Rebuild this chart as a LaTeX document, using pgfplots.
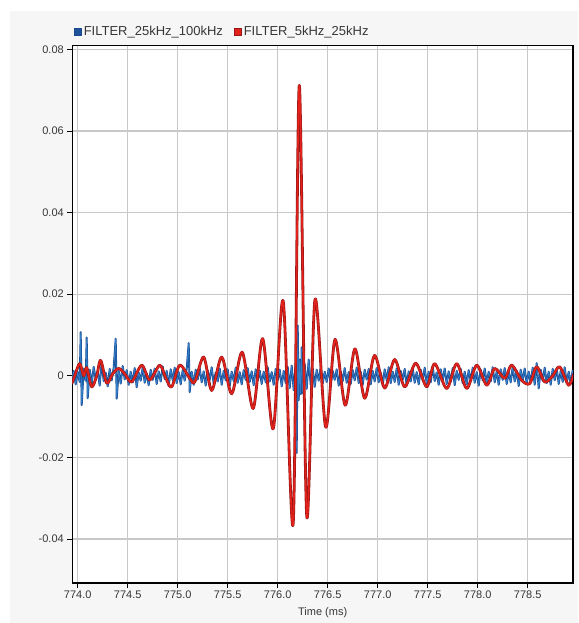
\documentclass[border=0pt]{standalone}
\usepackage{pgfplots}
\pgfplotsset{compat=1.18}
\usepackage{pgfplotstable}
\usepackage{fontspec}
\setmainfont{Liberation Sans}
\definecolor{bluS}{RGB}{52,128,200}
\definecolor{bluD}{RGB}{24,72,145}
\definecolor{redS}{RGB}{228,34,28}
\definecolor{redD}{RGB}{150,22,22}
\definecolor{panel}{RGB}{246,246,246}
\definecolor{gridc}{RGB}{200,200,200}
\definecolor{txt}{RGB}{55,55,55}
\pgfplotstableread{
t v
773.94 -0.0010
773.96 0.0012
773.98 -0.0021
774.00 0.0009
774.02 -0.0015
774.03 0.0107
774.04 -0.0072
774.06 0.0018
774.08 -0.0012
774.09 0.0094
774.10 -0.0055
774.12 0.0015
774.14 -0.0020
774.16 0.0022
774.18 -0.0008
774.20 0.0011
774.22 -0.0024
774.24 0.0035
774.26 -0.0013
774.28 0.0008
774.30 -0.0026
774.32 0.0017
774.34 -0.0011
774.36 0.0020
774.38 0.0091
774.39 -0.0056
774.41 0.0012
774.43 -0.0019
774.45 0.0024
774.47 -0.0009
774.49 0.0014
774.51 -0.0022
774.53 0.0010
774.55 -0.0016
774.57 0.0019
774.59 -0.0028
774.61 0.0008
774.63 -0.0012
774.65 0.0021
774.67 -0.0017
774.69 0.0006
774.71 -0.0023
774.73 0.0015
774.75 -0.0010
774.77 0.0018
774.79 -0.0020
774.81 0.0011
774.83 -0.0014
774.85 0.0023
774.87 -0.0008
774.89 0.0012
774.91 -0.0025
774.93 0.0016
774.95 -0.0011
774.97 0.0020
774.99 -0.0018
775.01 0.0009
775.03 -0.0021
775.05 0.0014
775.07 -0.0012
775.09 0.0017
775.11 0.0080
775.12 -0.0040
775.14 0.0010
775.16 -0.0022
775.18 0.0015
775.20 -0.0009
775.22 0.0019
775.24 -0.0016
775.26 0.0011
775.28 -0.0024
775.30 0.0013
775.32 -0.0010
775.34 0.0021
775.36 -0.0019
775.38 0.0008
775.40 -0.0014
775.42 0.0018
775.44 -0.0022
775.46 0.0012
775.48 -0.0011
775.50 0.0016
775.52 -0.0025
775.54 0.0010
775.56 -0.0013
775.58 0.0020
775.60 -0.0017
775.62 0.0009
775.64 -0.0021
775.66 0.0014
775.68 -0.0010
775.70 0.0019
775.72 -0.0015
775.74 0.0011
775.76 -0.0023
775.78 0.0016
775.80 -0.0012
775.82 0.0013
775.84 -0.0020
775.86 0.0010
775.88 -0.0016
775.90 0.0021
775.92 -0.0014
775.94 0.0009
775.96 -0.0022
775.98 0.0017
776.00 -0.0011
776.02 0.0015
776.04 -0.0026
776.06 0.0012
776.08 -0.0018
776.10 0.0022
776.12 -0.0030
776.14 0.0025
776.16 -0.0035
776.18 0.0030
776.19 -0.0189
776.20 0.0124
776.21 -0.0060
776.22 0.0040
776.23 -0.0045
776.24 0.0070
776.25 -0.0043
776.27 0.0028
776.29 -0.0032
776.31 0.0040
776.33 -0.0022
776.35 0.0018
776.37 -0.0027
776.39 0.0015
776.41 -0.0012
776.43 0.0020
776.45 -0.0019
776.47 0.0010
776.49 -0.0015
776.51 0.0018
776.53 -0.0021
776.55 0.0012
776.57 -0.0010
776.59 0.0016
776.61 -0.0024
776.63 0.0011
776.65 -0.0013
776.67 0.0019
776.69 -0.0017
776.71 0.0009
776.73 -0.0020
776.75 0.0014
776.77 -0.0011
776.79 0.0020
776.81 -0.0018
776.83 0.0010
776.85 -0.0022
776.87 0.0015
776.89 -0.0009
776.91 0.0017
776.93 -0.0021
776.95 0.0012
776.97 -0.0014
776.99 0.0019
777.01 -0.0016
777.03 0.0008
777.05 -0.0023
777.07 0.0016
777.09 -0.0011
777.11 0.0021
777.13 -0.0018
777.15 0.0010
777.17 -0.0015
777.19 0.0018
777.21 -0.0022
777.23 0.0012
777.25 -0.0010
777.27 0.0017
777.29 -0.0024
777.31 0.0011
777.33 -0.0014
777.35 0.0019
777.37 -0.0017
777.39 0.0009
777.41 -0.0021
777.43 0.0015
777.45 -0.0011
777.47 0.0020
777.49 -0.0019
777.51 0.0010
777.53 -0.0016
777.55 0.0022
777.57 -0.0013
777.59 0.0008
777.61 -0.0022
777.63 0.0016
777.65 -0.0012
777.67 0.0018
777.69 -0.0020
777.71 0.0011
777.73 -0.0015
777.75 0.0019
777.77 -0.0023
777.79 0.0012
777.81 -0.0010
777.83 0.0017
777.85 -0.0018
777.87 0.0010
777.89 -0.0021
777.91 0.0014
777.93 -0.0012
777.95 0.0020
777.97 -0.0017
777.99 0.0009
778.01 -0.0024
778.03 0.0015
778.05 -0.0011
778.07 0.0018
778.09 -0.0019
778.11 0.0010
778.13 -0.0014
778.15 0.0021
778.17 -0.0016
778.19 0.0011
778.21 -0.0022
778.23 0.0016
778.25 -0.0010
778.27 0.0019
778.29 -0.0020
778.31 0.0009
778.33 -0.0016
778.35 0.0022
778.37 -0.0014
778.39 0.0012
778.41 -0.0025
778.43 0.0015
778.45 -0.0011
778.47 0.0018
778.49 -0.0019
778.51 0.0010
778.53 -0.0017
778.55 0.0020
778.57 -0.0022
778.59 0.0031
778.61 -0.0031
778.63 0.0015
778.65 -0.0012
778.67 0.0020
778.69 -0.0018
778.71 0.0010
778.73 -0.0022
778.75 0.0017
778.77 -0.0011
778.79 0.0019
778.81 -0.0020
778.83 0.0012
778.85 -0.0015
778.87 0.0021
778.89 -0.0018
778.91 0.0010
778.93 -0.0020
778.95 0.0014
}\bluetab
\pgfplotstableread{
t v
773.94 -0.0020
773.97 0.0000
774.02 0.0030
774.06 0.0000
774.09 0.0020
774.14 -0.0027
774.19 0.0000
774.23 0.0038
774.29 -0.0018
774.35 0.0005
774.41 0.0018
774.47 0.0005
774.54 -0.0015
774.64 0.0026
774.72 -0.0010
774.82 0.0026
774.88 -0.0005
774.94 -0.0027
775.02 0.0026
775.12 -0.0006
775.17 -0.0015
775.26 0.0046
775.34 -0.0036
775.44 0.0046
775.54 -0.0044
775.645 0.0058
775.755 -0.0080
775.85 0.0091
775.955 -0.0130
776.055 0.0183
776.155 -0.0361
776.216 0.0712
776.29 -0.0342
776.373 0.0187
776.48 -0.0126
776.573 0.0089
776.675 -0.0072
776.772 0.0066
776.87 -0.0055
776.968 0.0050
777.07 -0.0030
777.17 0.0040
777.27 -0.0027
777.38 0.0031
777.49 -0.0027
777.57 0.0030
777.69 -0.0031
777.79 0.0030
777.89 -0.0031
777.99 0.0026
778.09 -0.0023
778.17 0.0018
778.27 -0.0006
778.34 0.0026
778.44 -0.0011
778.52 -0.0019
778.59 0.0022
778.67 -0.0015
778.75 0.0000
778.82 0.0022
778.91 -0.0023
778.96 0.0005
}\redtab
\begin{document}
\begin{tikzpicture}
\fill[white] (-72.3pt,-40.3pt) rectangle (505.7pt,582.7pt);
\fill[panel] (-62.3pt,-40.3pt) rectangle (505.7pt,571.7pt);
\begin{axis}[
  at={(0,0)}, anchor=south west,
  scale only axis, width=500.7pt, height=537pt,
  xmin=773.946, xmax=778.953, ymin=-0.0507, ymax=0.0809,
  scaled y ticks=false, scaled x ticks=false,
  axis background/.style={fill=white},
  xtick={774,774.5,775,775.5,776,776.5,777,777.5,778,778.5},
  xticklabels={774.0,774.5,775.0,775.5,776.0,776.5,777.0,777.5,778.0,778.5},
  ytick={-0.04,-0.02,0,0.02,0.04,0.06,0.08},
  yticklabels={-0.04,-0.02,0,0.02,0.04,0.06,0.08},
  xtick pos=bottom, ytick pos=left,
  tick align=outside, major tick length=5pt,
  tick style={black, line width=0.8pt},
  grid=major, major grid style={gridc, line width=1.1pt},
  axis line style={black, line width=1.6pt},
  tick label style={font=\fontsize{11}{13}\selectfont, text=txt},
  xlabel={Time (ms)}, xlabel style={font=\fontsize{11}{13}\selectfont, text=txt, yshift=-2pt},
  legend columns=2,
  legend style={draw=none, fill=none, at={(0,1)}, anchor=west, xshift=1pt, yshift=13.7pt,
    font=\fontsize{13}{15}\selectfont, text=txt, inner sep=0pt,
    nodes={inner sep=2.5pt},
    /tikz/every even column/.append style={column sep=8pt}},
  legend cell align=left,
]
\addplot[bluD, line width=1.9pt, line join=round, forget plot] table[x=t, y=v] {\bluetab};
\addplot[bluS, line width=0.8pt, line join=round,
  legend image code/.code={\filldraw[draw=bluD, fill=bluD!80!bluS, line width=0.6pt] (0pt,-3.6pt) rectangle (7.2pt,3.6pt);}]
  table[x=t, y=v] {\bluetab};
\addlegendentry{FILTER\_25kHz\_100kHz}
\addplot[redD, line width=2.8pt, smooth, line join=round, forget plot] table[x=t, y=v] {\redtab};
\addplot[redS, line width=1.6pt, smooth, line join=round,
  legend image code/.code={\filldraw[draw=redD, fill=redS, line width=0.6pt] (0pt,-3.6pt) rectangle (7.2pt,3.6pt);}]
  table[x=t, y=v] {\redtab};
\addlegendentry{FILTER\_5kHz\_25kHz}
\end{axis}
\pgfresetboundingbox
\useasboundingbox (-72.3pt,-40.3pt) rectangle (505.7pt,582.7pt);
\end{tikzpicture}
\end{document}
